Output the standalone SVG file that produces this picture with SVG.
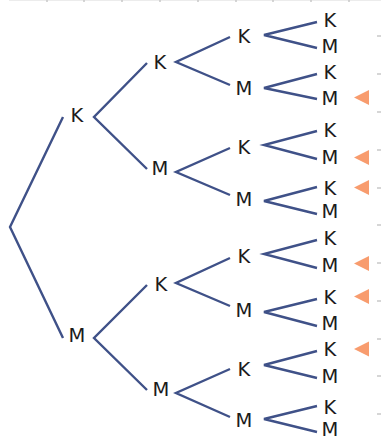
<svg xmlns="http://www.w3.org/2000/svg" width="381" height="437" viewBox="0 0 381 437">
  <style>
    .edge { stroke: #3f5188; stroke-width: 2.4; fill: none; stroke-linecap: butt; }
    .lbl { font-family: "DejaVu Sans", Verdana, sans-serif; font-size: 19.5px; fill: #1c1c1c; text-anchor: middle; }
    .mark { fill: #f89c6e; }
    .tick { stroke: #c8c8c8; stroke-width: 1.5; }
    .rule { stroke: #ececec; stroke-width: 1; }
  </style>
  <defs>
    <polygon id="tri" points="0,0 15,-7.5 15,7.5"/>
  </defs>

  <rect width="381" height="437" fill="#ffffff"/>

  <!-- axis rules -->
  <g id="rules">
    <line class="rule" x1="9" y1="0.5" x2="381" y2="0.5"/>
    <g class="tick">
      <line x1="47" y1="0" x2="47" y2="2"/>
      <line x1="84" y1="0" x2="84" y2="2"/>
      <line x1="122" y1="0" x2="122" y2="2"/>
      <line x1="160" y1="0" x2="160" y2="2"/>
      <line x1="198" y1="0" x2="198" y2="2"/>
      <line x1="236" y1="0" x2="236" y2="2"/>
      <line x1="273" y1="0" x2="273" y2="2"/>
      <line x1="311" y1="0" x2="311" y2="2"/>
      <line x1="349" y1="0" x2="349" y2="2"/>
      <line x1="377" y1="36" x2="381" y2="36"/>
      <line x1="377" y1="74" x2="381" y2="74"/>
      <line x1="377" y1="112" x2="381" y2="112"/>
      <line x1="377" y1="150" x2="381" y2="150"/>
      <line x1="377" y1="188" x2="381" y2="188"/>
      <line x1="377" y1="225" x2="381" y2="225"/>
      <line x1="377" y1="263" x2="381" y2="263"/>
      <line x1="377" y1="301" x2="381" y2="301"/>
      <line x1="377" y1="339" x2="381" y2="339"/>
      <line x1="377" y1="376" x2="381" y2="376"/>
      <line x1="377" y1="414" x2="381" y2="414"/>
    </g>
  </g>

  <!-- branches -->
  <g id="connectors" class="edge">
    <!-- root -->
    <polyline points="63,117 10,227 63,338"/>
    <!-- level 1 -->
    <polyline points="147,63 94,117 147,169"/>
    <polyline points="147,285 94,338 147,390"/>
    <!-- level 2 -->
    <polyline points="230,37 176,62 230,85"/>
    <polyline points="230,148 176,172 230,195"/>
    <polyline points="230,258 176,283 230,306"/>
    <polyline points="230,369 176,393 230,417"/>
    <!-- level 3 -->
    <polyline points="317,22 264,35 317,48"/>
    <polyline points="317,74 264,88 317,99"/>
    <polyline points="317,131 264,145 317,159"/>
    <polyline points="317,187 264,201 317,214"/>
    <polyline points="317,240 264,254 317,268"/>
    <polyline points="317,299 264,312 317,326"/>
    <polyline points="317,351 264,365 317,378"/>
    <polyline points="317,406 264,419 317,432"/>
  </g>

  <!-- level 1 -->
  <g id="n-K"><text class="lbl" x="77" y="122">K</text></g>
  <g id="n-M"><text class="lbl" x="77" y="342">M</text></g>

  <!-- level 2 -->
  <g id="n-KK"><text class="lbl" x="160" y="69">K</text></g>
  <g id="n-KM"><text class="lbl" x="160" y="175">M</text></g>
  <g id="n-MK"><text class="lbl" x="161" y="291">K</text></g>
  <g id="n-MM"><text class="lbl" x="161" y="396">M</text></g>

  <!-- level 3 -->
  <g id="n-KKK"><text class="lbl" x="244" y="43">K</text></g>
  <g id="n-KKM"><text class="lbl" x="244" y="95">M</text></g>
  <g id="n-KMK"><text class="lbl" x="244" y="154">K</text></g>
  <g id="n-KMM"><text class="lbl" x="244" y="206">M</text></g>
  <g id="n-MKK"><text class="lbl" x="244" y="263">K</text></g>
  <g id="n-MKM"><text class="lbl" x="244" y="317">M</text></g>
  <g id="n-MMK"><text class="lbl" x="244" y="376">K</text></g>
  <g id="n-MMM"><text class="lbl" x="244" y="427">M</text></g>

  <!-- leaves -->
  <g id="n-KKKK"><text class="lbl" x="330" y="27">K</text></g>
  <g id="n-KKKM"><text class="lbl" x="330" y="53">M</text></g>
  <g id="n-KKMK"><text class="lbl" x="330" y="79">K</text></g>
  <g id="n-KKMM"><text class="lbl" x="330" y="105">M</text></g>
  <g id="n-KMKK"><text class="lbl" x="330" y="137">K</text></g>
  <g id="n-KMKM"><text class="lbl" x="330" y="164">M</text></g>
  <g id="n-KMMK"><text class="lbl" x="330" y="195">K</text></g>
  <g id="n-KMMM"><text class="lbl" x="330" y="218">M</text></g>
  <g id="n-MKKK"><text class="lbl" x="330" y="245">K</text></g>
  <g id="n-MKKM"><text class="lbl" x="330" y="272">M</text></g>
  <g id="n-MKMK"><text class="lbl" x="330" y="304">K</text></g>
  <g id="n-MKMM"><text class="lbl" x="330" y="330">M</text></g>
  <g id="n-MMKK"><text class="lbl" x="330" y="356">K</text></g>
  <g id="n-MMKM"><text class="lbl" x="330" y="383">M</text></g>
  <g id="n-MMMK"><text class="lbl" x="330" y="414">K</text></g>
  <g id="n-MMMM"><text class="lbl" x="330" y="436">M</text></g>

  <!-- highlighted outcomes -->
  <g id="markers" class="mark">
    <use href="#tri" x="354" y="97.5"/>
    <use href="#tri" x="354" y="157.5"/>
    <use href="#tri" x="354" y="187.5"/>
    <use href="#tri" x="354" y="263.5"/>
    <use href="#tri" x="354" y="296.5"/>
    <use href="#tri" x="354" y="349"/>
  </g>
</svg>
